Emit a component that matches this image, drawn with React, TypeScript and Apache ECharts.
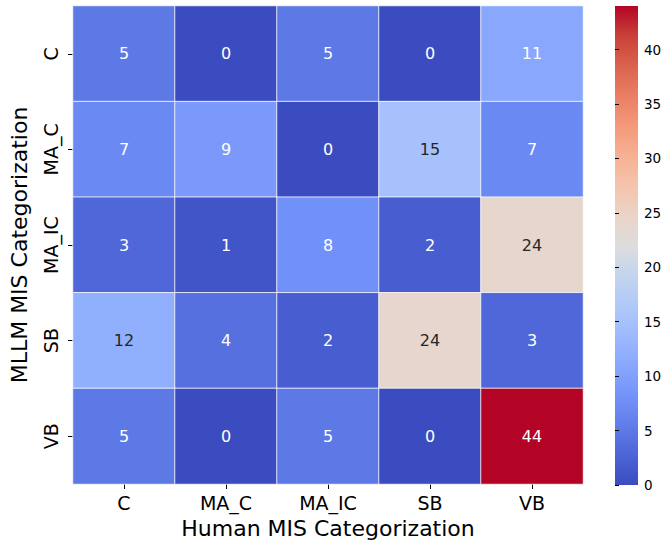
import React, { useEffect, useRef } from "react";
import * as echarts from "echarts";

const xCategories = ["C", "MA_C", "MA_IC", "SB", "VB"];
const yCategories = ["C", "MA_C", "MA_IC", "SB", "VB"];
// rows = MLLM (y), columns = Human (x)
const matrix: number[][] = [
  [5, 0, 5, 0, 11],
  [7, 9, 0, 15, 7],
  [3, 1, 8, 2, 24],
  [12, 4, 2, 24, 3],
  [5, 0, 5, 0, 44],
];
const colorbarMin = 0;
const colorbarMax = 44;
const colorbarInterval = 5;

// coolwarm colormap stops (Moreland)
const coolwarm: [number, number, number][] = [
  [0.2298, 0.2987, 0.7537],
  [0.3029, 0.3969, 0.8407],
  [0.3787, 0.4905, 0.9167],
  [0.4567, 0.5776, 0.9765],
  [0.5376, 0.6584, 0.9938],
  [0.6176, 0.7276, 0.9943],
  [0.6946, 0.7872, 0.9741],
  [0.766, 0.8322, 0.9341],
  [0.8654, 0.8654, 0.8654],
  [0.9169, 0.831, 0.7805],
  [0.9577, 0.7678, 0.6728],
  [0.9686, 0.6919, 0.5765],
  [0.9566, 0.5982, 0.4767],
  [0.9187, 0.4962, 0.3867],
  [0.8543, 0.3866, 0.3016],
  [0.788, 0.256, 0.2226],
  [0.7057, 0.0157, 0.1502],
];
const toHex = (c: number[]) =>
  "#" + c.map((v) => Math.round(v * 255).toString(16).padStart(2, "0")).join("");
const stopColors = coolwarm.map(toHex);

function cmap(t: number): [number, number, number] {
  const n = coolwarm.length - 1;
  const p = Math.max(0, Math.min(1, t)) * n;
  const i = Math.min(Math.floor(p), n - 1);
  const f = p - i;
  const a = coolwarm[i];
  const b = coolwarm[i + 1];
  return [a[0] + (b[0] - a[0]) * f, a[1] + (b[1] - a[1]) * f, a[2] + (b[2] - a[2]) * f];
}
const norm = (v: number) => (v - colorbarMin) / (colorbarMax - colorbarMin);
function textColorFor(v: number) {
  const c = cmap(norm(v));
  const lin = c.map((x) => (x <= 0.03928 ? x / 12.92 : Math.pow((x + 0.055) / 1.055, 2.4)));
  const lum = 0.2126 * lin[0] + 0.7152 * lin[1] + 0.0722 * lin[2];
  return lum > 0.408 ? "#262626" : "#ffffff";
}

const FONT = "DejaVu Sans";
const CB = { left: 615, top: 6, width: 23, height: 479 };

export default function App() {
  const ref = useRef<HTMLDivElement>(null);
  useEffect(() => {
    if (!ref.current) return;
    const chart = echarts.init(ref.current, undefined, { renderer: "svg" });
    const data: any[] = [];
    matrix.forEach((row, yi) =>
      row.forEach((v, xi) => {
        data.push({
          value: [xi, yi, v],
          label: { color: textColorFor(v) },
        });
      })
    );
    chart.setOption({
      animation: false,
      textStyle: { fontFamily: FONT },
      grid: [
        { left: 71, top: 6, width: 512, height: 479 },
        { left: CB.left, top: CB.top, width: CB.width, height: CB.height },
      ],
      xAxis: [
        {
          type: "category",
          data: xCategories,
          gridIndex: 0,
          position: "bottom",
          axisLine: { show: false },
          axisTick: { show: true, alignWithLabel: true, length: 5, lineStyle: { color: "#000", width: 1 } },
          axisLabel: { fontSize: 19, color: "#000", margin: 9, fontFamily: FONT },
          splitLine: { show: false },
          name: "Human MIS Categorization",
          nameLocation: "middle",
          nameGap: 33,
          nameTextStyle: { fontSize: 22, color: "#000", fontFamily: FONT },
        },
        { type: "value", gridIndex: 1, show: false, min: 0, max: 1 },
      ],
      yAxis: [
        {
          type: "category",
          data: yCategories,
          gridIndex: 0,
          inverse: true,
          axisLine: { show: false },
          axisTick: { show: true, alignWithLabel: true, length: 5, lineStyle: { color: "#000", width: 1 } },
          axisLabel: { fontSize: 19, color: "#000", margin: 13, rotate: 90, fontFamily: FONT },
          splitLine: { show: false },
          name: "MLLM MIS Categorization",
          nameLocation: "middle",
          nameRotate: 90,
          nameGap: 43,
          nameTextStyle: { fontSize: 22, color: "#000", fontFamily: FONT },
        },
        {
          type: "value",
          gridIndex: 1,
          position: "right",
          min: colorbarMin,
          max: colorbarMax,
          interval: colorbarInterval,
          axisLine: { show: false },
          axisTick: { show: true, length: 4, lineStyle: { color: "#000", width: 1 } },
          axisLabel: {
            fontSize: 13.5,
            color: "#000",
            margin: 6,
            fontFamily: FONT,
            showMaxLabel: false,
          },
          splitLine: { show: false },
        },
      ],
      visualMap: {
        type: "continuous",
        show: false,
        seriesIndex: 0,
        dimension: 2,
        min: colorbarMin,
        max: colorbarMax,
        inRange: { color: stopColors },
      },
      graphic: [
        {
          type: "rect",
          shape: { x: CB.left, y: CB.top, width: CB.width, height: CB.height },
          style: {
            fill: new echarts.graphic.LinearGradient(
              0,
              1,
              0,
              0,
              coolwarm.map((c, i) => ({ offset: i / (coolwarm.length - 1), color: toHex(c) }))
            ),
          },
          silent: true,
          z: -1,
        },
      ],
      series: [
        {
          type: "heatmap",
          xAxisIndex: 0,
          yAxisIndex: 0,
          data,
          itemStyle: { borderColor: "#ffffff", borderWidth: 0.8 },
          label: {
            show: true,
            fontSize: 16,
            fontFamily: FONT,
            formatter: (p: any) => String(p.value[2]),
          },
          emphasis: { disabled: true },
        },
        { type: "line", xAxisIndex: 1, yAxisIndex: 1, data: [], silent: true },
      ],
    });
    return () => chart.dispose();
  }, []);
  return (
    <div
      ref={ref}
      style={{ position: "absolute", left: 0, top: 0, width: 666, height: 544, background: "#fff" }}
    />
  );
}
